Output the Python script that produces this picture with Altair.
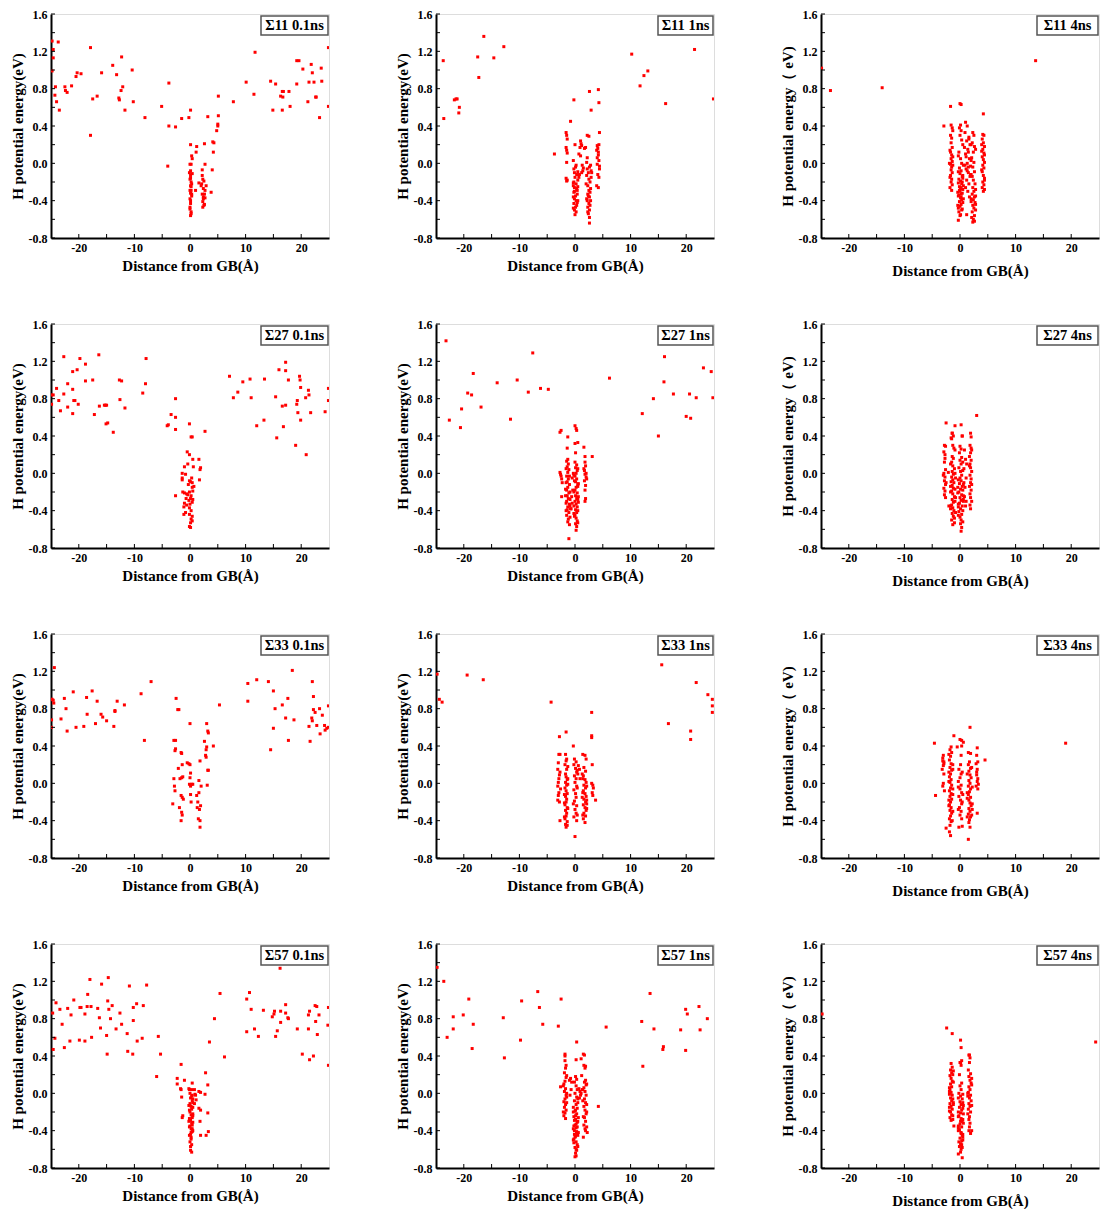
import altair as alt
import pandas as pd

FONT = "Liberation Serif"
W = 278
H = 224

XMAJOR = [-20, -10, 0, 10, 20]
XMINOR = [-15, -5, 5, 15]
YMAJOR = [-0.8, -0.4, 0.0, 0.4, 0.8, 1.2, 1.6]
YMINOR = [-0.6, -0.2, 0.2, 0.6, 1.0, 1.4]

LABELS = ["Σ11 0.1ns", "Σ11 1ns", "Σ11 4ns",
          "Σ27 0.1ns", "Σ27 1ns", "Σ27 4ns",
          "Σ33 0.1ns", "Σ33 1ns", "Σ33 4ns",
          "Σ57 0.1ns", "Σ57 1ns", "Σ57 4ns"]
YTITLE_A = "H potential energy(eV)"
YTITLE_B = "H potential energy（ eV)"
XTITLE = "Distance from GB(Å)"

S11_01 = [
(-24.8,1.31),(-24.6,1.22),(-24.6,1.13),(-24.8,0.99),(-23.7,1.30),(-24.2,0.82),(-24.3,0.73),(-24.0,0.66),(-23.5,0.57),
(-22.5,0.82),(-22.4,0.78),(-22.1,0.76),(-21.3,0.83),(-20.5,0.93),(-20.3,0.97),(-19.6,0.96),(-17.9,1.24),(-17.5,0.69),(-17.9,0.30),
(-16.7,0.72),(-15.9,0.97),(-13.9,1.05),(-13.2,0.95),(-12.8,0.70),(-12.7,0.68),(-12.4,0.78),(-12.3,1.14),(-12.1,0.82),(-11.7,0.57),
(-10.4,1.00),(-10.2,0.66),(-8.1,0.49),(-5.1,0.61),(-3.8,0.86),(-3.8,0.40),(-4.0,-0.03),(-2.6,0.39),(-1.5,0.48),(-0.2,0.49),(0.1,0.57),
(0.1,0.20),(0.3,0.08),(0.4,0.05),(0.2,-0.01),(0.0,-0.01),(0.1,-0.08),(0.1,-0.13),(0.0,-0.17),(0.1,-0.16),(0.2,-0.20),(0.1,-0.24),
(0.0,-0.29),(0.1,-0.32),(0.3,-0.35),(0.0,-0.38),(0.1,-0.43),(0.0,-0.47),(0.2,-0.52),(0.1,-0.56),(0.2,-0.54),(-0.1,-0.10),(0.4,-0.11),
(0.3,-0.22),(0.2,-0.29),(0.3,-0.33),(0.0,-0.49),(0.2,-0.25),(0.1,-0.40),
(1.2,0.18),(1.1,0.12),(1.0,-0.29),(1.6,-0.21),(2.0,-0.24),(2.1,-0.22),(2.2,-0.13),(2.2,-0.07),(2.3,-0.17),(2.4,-0.27),(2.2,-0.33),
(2.4,-0.38),(2.3,-0.41),(2.6,-0.44),(2.3,-0.47),(2.6,0.21),(2.7,-0.01),(2.6,-0.33),(2.7,-0.37),(2.7,-0.29),(2.9,-0.24),(2.5,-0.45),
(2.4,-0.36),(2.5,-0.19),
(3.2,0.50),(3.8,-0.31),(4.0,-0.07),(4.3,0.22),(4.1,0.23),(4.2,0.12),(4.8,0.35),(5.0,0.40),(5.0,0.42),(5.1,0.51),(5.1,0.72),
(7.8,0.66),(10.1,0.87),(11.5,0.74),(11.7,1.19),(14.5,0.88),(14.9,0.57),(15.4,0.85),(16.3,0.72),(16.6,0.77),(16.7,0.71),(16.6,0.57),
(16.8,0.77),(17.8,0.77),(18.0,0.61),(19.2,0.85),(19.2,1.10),(19.6,1.10),(20.3,1.01),(21.4,0.87),(21.2,0.66),(21.8,1.06),(22.0,0.97),
(22.3,0.87),(22.6,0.71),(22.7,0.71),(23.3,0.49),(23.6,1.02),(23.7,0.88),(24.9,1.24),(24.9,0.61)]

S11_1 = [
(-23.7,1.10),(-23.6,0.48),(-21.7,0.68),(-21.4,0.69),(-21.2,0.69),(-20.8,0.60),(-20.9,0.54),(-17.5,1.14),(-17.3,0.92),(-16.4,1.36),
(-14.6,1.13),(-12.8,1.25),(-3.7,0.10),(-0.8,0.45),(-0.2,0.68),(2.6,0.77),(2.9,0.57),(4.2,0.79),(4.3,0.65),(4.4,0.33),
(10.2,1.17),(11.7,0.83),(12.4,0.94),(13.1,0.99),(16.3,0.64),(21.5,1.22),(24.9,0.69),
(-1.6,0.33),(-1.5,0.30),(-1.4,0.26),(-1.6,0.17),(-1.5,0.14),(-1.4,0.11),(-1.5,0.01),(-1.6,-0.16),(-1.5,-0.19),(-1.4,-0.18),
(0.0,0.20),(-0.3,0.03),(0.1,-0.04),(-0.1,-0.10),(0.3,-0.12),(0.0,-0.15),(-0.2,-0.20),(0.2,-0.22),(-0.1,-0.26),(0.3,-0.27),
(-0.2,-0.31),(0.1,-0.35),(-0.1,-0.38),(0.2,-0.40),(-0.2,-0.43),(0.1,-0.47),(-0.1,-0.50),(0.0,-0.55),(0.4,-0.29),(-0.3,-0.24),
(0.5,-0.18),(0.5,-0.40),(-0.3,-0.48),(0.7,-0.15),(0.4,-0.33),(-0.2,-0.06),(0.3,-0.45),(-0.3,-0.36),(0.5,-0.25),(0.2,-0.52),
(0.5,-0.09),(0.2,-0.02),(-0.3,-0.21),(-0.1,-0.30),(0.4,-0.42),
(1.0,0.24),(1.2,0.19),(0.7,0.10),(1.0,0.08),(1.3,-0.02),(1.2,-0.10),(1.4,-0.08),(0.9,0.17),(1.1,0.21),(1.7,0.16),(1.5,-0.05),(0.8,-0.12),
(2.2,0.30),(2.5,0.29),(1.9,0.17),(2.1,0.01),(2.2,-0.06),(2.4,-0.10),(2.5,-0.17),(2.7,-0.20),(2.3,-0.24),(2.5,-0.29),(2.3,-0.33),
(2.6,-0.36),(2.2,-0.40),(2.5,-0.43),(2.3,-0.47),(2.6,-0.50),(2.4,-0.54),(2.6,-0.58),(2.6,-0.64),(2.8,-0.02),(2.9,-0.08),(3.0,-0.10),
(2.8,-0.27),(2.8,-0.40),(2.1,-0.13),(2.0,-0.22),(2.7,-0.31),(2.1,-0.38),(2.7,-0.45),(2.3,-0.52),(2.6,-0.04),(2.2,0.06),(2.9,-0.15),(2.4,-0.35),
(4.0,0.19),(4.3,0.20),(3.9,0.14),(4.2,0.12),(4.0,0.06),(4.3,0.03),(4.0,-0.01),(4.4,-0.06),(4.1,-0.12),(4.3,-0.15),(3.9,-0.24),
(4.2,-0.26),(4.1,0.16),(4.2,0.09),(4.4,-0.03)]

S11_4 = [
(-24.9,1.02),(-23.3,0.78),(-14.0,0.81),(13.6,1.10),(-2.9,0.40),(-1.7,0.61),(-0.3,-0.61),(1.2,-0.55),(2.6,-0.62),(0.0,0.64),(0.2,0.63),(4.2,0.53),
(-1.6,0.41),(-1.4,0.38),(-1.7,0.30),(-1.5,0.27),(-1.6,0.22),(-1.4,0.17),(-1.7,0.12),(-1.5,0.09),(-1.6,0.05),(-1.4,0.02),(-1.7,-0.01),
(-1.5,-0.04),(-1.6,-0.07),(-1.4,-0.10),(-1.7,-0.13),(-1.5,-0.17),(-1.6,-0.20),(-1.4,-0.23),(-1.8,-0.26),(-1.5,-0.29),(-1.3,0.35),
(-1.8,0.14),(-1.3,-0.02),(-1.8,-0.15),(-1.9,0.00),(-1.3,0.07),
(0.1,0.41),(-0.1,0.38),(0.2,0.35),(0.0,0.30),(0.3,0.25),(-0.2,0.12),(0.1,0.05),(0.3,0.00),(-0.1,-0.05),(0.2,-0.08),(0.0,-0.11),
(0.4,-0.14),(-0.2,-0.17),(0.1,-0.19),(0.3,-0.22),(-0.1,-0.25),(0.2,-0.27),(0.0,-0.30),(0.4,-0.32),(-0.2,-0.34),(0.1,-0.37),
(0.3,-0.39),(-0.1,-0.41),(0.2,-0.44),(0.0,-0.46),(0.4,-0.49),(-0.2,-0.52),(0.1,-0.55),(0.5,-0.13),(-0.3,-0.21),(0.5,-0.28),
(-0.3,-0.35),(0.5,-0.42),(-0.3,-0.48),(0.6,-0.24),(-0.4,-0.31),(0.6,-0.38),(-0.4,-0.45),(0.5,-0.16),(-0.3,-0.09),(0.6,-0.02),
(0.4,-0.20),(-0.1,-0.29),(0.2,-0.36),(0.3,-0.50),(0.0,-0.56),(0.5,0.20),(-0.3,0.08),(0.1,-0.26),(0.2,-0.33),
(1.0,0.44),(1.3,0.40),(0.9,0.33),(1.6,0.28),(1.2,0.24),(1.8,0.20),(1.4,0.15),(1.0,0.10),(1.7,0.05),(1.3,0.00),(1.9,-0.03),
(1.1,-0.06),(1.5,-0.10),(1.8,-0.14),(1.2,-0.18),(1.6,-0.22),(1.0,-0.26),(1.4,-0.30),(1.7,-0.36),(0.8,0.17),(1.5,0.12),(2.0,0.03),
(0.9,-0.02),(1.3,-0.08),(1.9,-0.12),(1.6,0.26),(1.1,0.07),(1.5,-0.04),
(2.3,0.33),(2.5,0.30),(2.2,0.22),(2.6,0.18),(2.4,0.12),(2.1,0.06),(2.5,0.01),(2.3,-0.04),(2.6,-0.09),(2.2,-0.14),(2.4,-0.18),
(2.7,-0.22),(2.3,-0.26),(2.5,-0.30),(2.2,-0.33),(2.6,-0.36),(2.4,-0.39),(2.7,-0.42),(2.3,-0.45),(2.5,-0.48),(2.2,-0.52),(2.6,-0.56),
(2.4,-0.60),(2.3,-0.63),(2.8,-0.35),(2.0,-0.41),(2.8,-0.28),(2.0,0.20),(2.8,0.15),(2.0,-0.12),(2.8,-0.44),(2.0,-0.38),(2.8,-0.50),(2.1,-0.58),
(4.1,0.31),(4.3,0.30),(4.0,0.26),(4.2,0.22),(4.4,0.18),(4.1,0.15),(4.3,0.11),(4.0,0.07),(4.2,0.04),(4.4,0.01),(4.1,-0.02),(4.3,-0.05),
(4.0,-0.09),(4.2,-0.13),(4.4,-0.16),(4.1,-0.20),(4.3,-0.23),(4.0,-0.26),(4.2,-0.30),(3.9,0.20),(4.4,0.09),(3.9,-0.07),(4.4,-0.18),
(3.9,0.13),(4.4,-0.28)]

S27_01 = [
(-24.9,0.84),(-24.9,0.74),(-24.6,0.84),(-24.0,0.91),(-23.6,0.78),(-23.3,0.67),(-22.7,1.25),(-22.7,0.85),(-22.0,0.71),(-22.0,0.96),
(-21.1,1.09),(-21.1,0.90),(-21.1,0.64),(-20.9,0.78),(-20.7,0.78),(-20.3,1.11),(-20.1,0.74),(-19.8,1.23),(-18.8,1.17),(-18.8,0.99),
(-17.5,1.00),(-17.2,0.63),(-16.4,1.27),(-16.3,0.72),(-15.4,0.73),(-15.2,0.73),(-15.0,0.73),(-15.1,0.53),(-14.8,0.54),(-13.8,0.44),
(-12.7,1.00),(-12.3,0.99),(-12.6,0.79),(-11.7,0.70),(-8.5,0.86),(-8.0,0.96),(-7.9,1.23),(-4.1,0.51),(-3.9,0.52),(-3.4,0.63),
(-2.6,0.60),(-2.6,0.47),(-2.6,0.80),(-2.6,-0.24),(-0.1,0.53),(0.2,0.39),(0.4,0.39),(2.7,0.45),
(-0.5,0.23),(-0.1,0.20),(0.5,0.15),(1.6,0.15),(-1.0,0.07),(-0.4,0.10),(0.6,0.07),(-1.4,0.00),(-0.8,-0.01),(1.8,0.04),(1.9,0.06),
(1.7,-0.07),(-1.4,-0.05),(-1.4,-0.07),(-0.1,-0.08),(0.1,-0.09),(0.4,-0.10),(0.7,-0.14),(-1.3,-0.20),(-1.0,-0.21),(-0.6,-0.22),
(-0.4,-0.23),(-0.1,-0.20),(0.2,-0.24),(0.5,-0.19),(0.4,-0.15),(0.1,-0.27),(-0.2,-0.29),(0.4,-0.31),(-1.0,-0.32),(-0.6,-0.34),
(-1.1,-0.36),(-0.1,-0.37),(0.2,-0.40),(-0.8,-0.42),(-1.1,-0.44),(-0.1,-0.44),(0.4,-0.46),(0.2,-0.49),(0.1,-0.53),(-0.1,-0.57),
(0.1,-0.58),(0.4,-0.51),(0.5,-0.28),(-0.3,-0.12),(0.3,-0.05),(-0.7,-0.27),(0.0,-0.33),
(7.1,1.04),(7.8,0.81),(8.6,0.87),(9.5,0.98),(10.8,1.01),(11.0,0.81),(12.0,0.51),(13.3,0.57),(13.4,1.01),(15.4,0.82),(15.6,0.38),
(16.0,1.11),(16.6,0.72),(16.8,0.50),(17.2,0.73),(17.2,1.10),(17.2,1.19),(17.7,1.00),(19.0,0.30),(19.2,0.74),(19.3,0.78),(19.4,0.65),
(19.7,1.04),(19.8,1.00),(19.9,0.92),(19.9,0.57),(20.8,0.81),(20.9,0.20),(21.3,0.89),(21.4,0.84),(21.7,0.65),(24.3,0.66),(24.9,0.78),(24.9,0.91)]

S27_1 = [
(-23.2,1.42),(-22.6,0.57),(-20.6,0.49),(-20.4,0.69),(-19.3,0.86),(-18.6,0.84),(-18.3,1.07),(-16.9,0.71),(-14.0,0.97),(-11.6,0.58),
(-10.4,1.00),(-8.4,0.87),(-7.6,1.29),(-6.2,0.91),(-4.8,0.90),(-2.7,0.44),(-2.5,0.46),(-1.3,0.39),(0.0,0.51),(0.2,0.48),(0.3,0.46),
(0.0,0.32),(0.5,0.33),(0.1,0.22),(1.6,0.28),(1.8,0.18),(3.1,0.18),(-1.4,0.27),(-1.1,-0.70),(0.2,-0.61),(6.2,1.02),(12.1,0.64),
(14.1,0.80),(15.0,0.40),(16.1,1.25),(16.0,0.98),(17.7,0.85),(20.0,0.61),(20.6,0.85),(20.8,0.59),(21.8,0.81),(23.1,1.13),(24.5,1.09),(24.8,0.81),
(-2.7,0.01),(-2.6,-0.01),(-2.5,-0.03),(-2.4,-0.06),(-2.3,-0.10),(-2.4,-0.25),
(-1.3,0.15),(-1.5,0.13),(-1.2,0.10),(-1.4,0.07),(-1.1,0.04),(-1.3,0.01),(-1.5,-0.03),(-1.2,-0.06),(-1.4,-0.09),(-1.0,-0.12),
(-1.3,-0.15),(-1.5,-0.18),(-1.1,-0.21),(-1.4,-0.24),(-1.2,-0.27),(-1.5,-0.30),(-1.0,-0.33),(-1.3,-0.36),(-1.4,-0.39),(-1.1,-0.42),
(-1.5,-0.45),(-1.2,-0.49),(-1.3,-0.52),(-1.0,-0.55),(-0.9,-0.20),(-0.9,-0.35),(-1.6,-0.10),(-1.6,0.05),(-0.9,-0.28),(-1.6,-0.40),
(-0.9,-0.47),(-1.7,-0.17),(-1.6,-0.32),(-1.0,-0.03),(-1.7,-0.24),(-0.8,-0.38),
(-0.6,-0.25),(-0.4,-0.18),(-0.5,-0.05),(-0.3,0.00),(-0.7,-0.38),(-0.5,-0.32),
(0.0,0.12),(0.3,0.09),(0.1,0.06),(0.4,0.03),(0.2,0.00),(0.0,-0.03),(0.3,-0.06),(0.1,-0.09),(0.5,-0.12),(0.2,-0.15),(0.0,-0.18),
(0.4,-0.21),(0.1,-0.24),(0.3,-0.27),(0.0,-0.30),(0.2,-0.33),(0.4,-0.36),(0.1,-0.39),(0.3,-0.42),(0.0,-0.45),(0.2,-0.48),(0.4,-0.51),
(0.1,-0.54),(0.3,-0.57),(0.5,-0.14),(0.5,-0.28),(0.5,-0.40),(-0.2,-0.20),(-0.2,-0.35),(-0.1,-0.08),(0.5,0.05),(-0.1,-0.46),
(0.6,-0.25),(0.6,-0.11),(0.6,-0.31),(-0.2,-0.43),(0.5,-0.53),(-0.2,-0.02),
(1.8,0.12),(1.9,0.08),(1.7,0.03),(1.8,-0.01),(2.0,-0.04),(1.7,-0.08),(1.9,-0.13),(1.8,-0.18),(1.9,-0.27),(1.8,-0.30),(2.0,0.00),
(1.6,0.05),(2.1,-0.06)]

S27_4 = [
(-2.5,0.54),(-0.9,0.51),(0.2,0.52),(3.0,0.62),(0.4,0.40),(-1.4,0.43),(-1.6,0.38),(-2.0,-0.35),
(-2.8,0.30),(-2.6,0.29),(-2.9,0.23),(-2.7,0.20),(-2.8,0.12),(-2.6,0.04),(-2.9,0.00),(-2.7,-0.04),(-2.8,-0.08),(-2.6,-0.12),
(-2.9,-0.16),(-2.7,-0.19),(-2.8,-0.23),(-2.6,-0.26),(-2.7,0.16),(-3.0,-0.02),(-2.5,-0.10),(-2.1,0.01),
(-1.4,0.43),(-1.2,0.40),(-1.5,0.37),(-1.3,0.30),(-1.1,0.27),(-1.4,0.18),(-1.2,0.16),(-1.5,0.12),(-1.3,0.08),(-1.0,0.05),
(-1.4,0.02),(-1.2,-0.01),(-1.5,-0.04),(-1.3,-0.07),(-1.1,-0.10),(-1.4,-0.13),(-1.2,-0.16),(-1.5,-0.19),(-1.3,-0.22),(-1.0,-0.25),
(-1.4,-0.28),(-1.2,-0.31),(-1.5,-0.34),(-1.3,-0.37),(-1.1,-0.40),(-1.4,-0.43),(-1.2,-0.46),(-1.5,-0.50),(-1.3,-0.55),(-1.0,-0.53),
(-0.9,0.25),(-1.7,0.10),(-0.8,-0.05),(-1.7,-0.20),(-0.9,-0.30),(-0.8,-0.42),(-1.7,-0.14),(-0.8,-0.26),(-1.7,-0.35),(-0.9,0.00),
(-1.0,-0.48),(-1.6,-0.09),(-0.9,-0.17),(-1.7,-0.38),
(0.4,0.40),(0.0,0.29),(0.2,0.26),(-0.1,0.22),(0.3,0.17),(0.0,0.14),(0.2,0.10),(-0.2,0.06),(0.1,0.02),(0.3,-0.02),(0.0,-0.05),
(0.2,-0.08),(-0.1,-0.11),(0.4,-0.14),(0.1,-0.17),(-0.2,-0.20),(0.3,-0.23),(0.0,-0.26),(0.2,-0.29),(-0.1,-0.32),(0.4,-0.35),
(0.1,-0.38),(-0.2,-0.41),(0.3,-0.44),(0.0,-0.47),(0.2,-0.50),(0.1,-0.54),(0.3,-0.58),(0.2,-0.62),(0.6,-0.12),(0.6,-0.24),
(-0.3,-0.33),(0.5,-0.40),(-0.3,-0.07),(0.5,-0.18),(0.6,-0.28),(-0.3,-0.45),(0.5,0.03),(-0.3,-0.36),(0.5,-0.52),(-0.4,-0.15),
(0.6,-0.30),(0.5,0.12),(-0.4,-0.21),
(0.8,0.25),(1.0,0.15),(0.7,0.05),(1.1,-0.05),(0.9,-0.15),(0.8,-0.25),(1.0,-0.35),(1.2,0.10),(0.7,-0.10),(1.1,-0.30),
(1.9,0.43),(2.0,0.39),(1.8,0.30),(2.0,0.27),(1.9,0.22),(1.7,0.18),(2.0,0.14),(1.8,0.10),(1.9,0.06),(2.1,0.02),(1.8,-0.02),
(2.0,-0.06),(1.9,-0.10),(1.7,-0.14),(2.0,-0.18),(1.8,-0.22),(1.9,-0.26),(2.1,-0.30),(1.8,-0.34),(1.9,-0.38),(2.1,0.25),(1.7,0.08),(2.1,-0.12)]

S33_01 = [
(-24.9,0.90),(-24.8,0.90),(-24.6,0.89),(-24.5,0.86),(-24.4,1.24),(-24.9,0.68),(-24.9,0.60),(-23.2,0.69),(-22.6,0.91),(-22.3,0.80),
(-22.1,0.56),(-21.0,0.98),(-20.5,0.60),(-19.1,0.61),(-18.6,0.92),(-18.5,0.74),(-17.6,0.99),(-17.0,0.64),(-16.7,0.88),(-16.0,0.74),
(-15.7,0.71),(-15.0,0.67),(-13.7,0.61),(-13.5,0.77),(-13.5,0.78),(-13.1,0.88),(-11.8,0.84),(-8.8,0.96),(-8.2,0.46),(-7.0,1.09),
(-2.9,0.46),(-2.6,0.46),(-2.7,0.35),(-2.6,0.37),(-2.5,0.91),(-2.2,0.79),(-2.0,0.79),(-3.1,-0.22),(-2.9,0.05),(-2.8,-0.03),
(-2.7,-0.08),(-2.1,0.16),(-1.6,0.33),(-1.5,0.32),(-1.4,0.20),(-1.8,0.05),(-1.5,0.06),(-1.3,0.07),(-1.6,-0.13),(-1.4,-0.15),
(-1.2,-0.17),(-1.9,-0.26),(-1.5,-0.31),(-1.4,-0.34),(-1.6,-0.40),(-0.5,0.22),(-0.2,0.21),(0.0,0.20),(0.0,0.64),(0.1,0.11),
(0.0,0.06),(-0.1,-0.01),(0.1,-0.03),(0.3,-0.01),(0.5,-0.01),(0.1,-0.12),(0.2,-0.20),(1.2,-0.13),(1.3,-0.26),(1.4,-0.20),
(1.6,0.03),(1.6,-0.10),(1.8,0.24),(1.7,-0.28),(1.5,-0.38),(1.8,-0.40),(1.8,-0.47),(1.9,-0.24),(2.0,-0.03),(2.6,0.45),(2.8,0.30),
(2.9,0.28),(2.9,0.36),(3.0,0.39),(3.0,0.64),(3.2,0.56),(3.3,0.54),(3.2,0.14),(3.3,0.14),(3.1,-0.02),(4.2,0.40),(5.3,0.84),
(10.4,1.07),(10.4,0.88),(12.0,1.11),(14.1,1.09),(14.5,0.36),(15.0,0.59),(15.0,0.99),(15.3,0.80),(16.6,0.84),(17.2,0.70),(17.6,0.91),
(17.7,0.46),(18.4,1.21),(18.7,0.68),(21.4,0.61),(21.6,0.45),(21.9,0.70),(22.0,0.67),(22.0,1.09),(22.2,0.93),(22.2,0.79),(22.5,0.76),
(22.8,0.62),(23.3,0.80),(23.4,0.53),(23.8,0.73),(24.2,0.62),(24.3,0.57),(24.6,0.59),(24.9,0.60),(24.9,0.83)]

S33_1 = [
(-24.8,1.17),(-24.4,0.90),(-23.9,0.87),(-19.4,1.16),(-16.5,1.11),(-4.3,0.87),(-2.8,0.50),(-1.6,0.55),(-0.3,0.40),(3.0,0.76),
(3.0,0.51),(3.0,0.49),(3.1,0.20),(3.7,-0.18),(15.6,1.27),(16.8,0.64),(20.8,0.56),(20.8,0.47),(21.8,1.08),(23.9,0.95),(24.7,0.90),
(24.7,0.83),(24.7,0.76),(0.0,-0.57),(-2.7,-0.40),
(-2.9,0.31),(-2.7,0.31),(-3.0,0.22),(-3.1,0.15),(-2.8,0.09),(-2.9,0.05),(-3.0,0.01),(-3.1,-0.03),(-2.9,-0.10),(-3.0,-0.13),
(-3.1,-0.18),(-2.8,-0.20),(-2.7,0.12),(-2.6,-0.06),
(-1.7,0.31),(-1.5,0.26),(-1.6,0.24),(-1.8,0.20),(-1.5,0.15),(-1.7,0.10),(-1.6,0.07),(-1.4,0.04),(-1.7,0.01),(-1.5,-0.02),
(-1.8,-0.05),(-1.6,-0.08),(-1.4,-0.11),(-1.7,-0.14),(-1.5,-0.17),(-1.6,-0.20),(-1.8,-0.23),(-1.4,-0.26),(-1.7,-0.29),(-1.5,-0.32),
(-1.6,-0.35),(-1.8,-0.38),(-1.4,-0.41),(-1.7,-0.44),(-1.6,-0.47),(-1.4,-0.45),(-1.3,0.18),(-1.3,-0.01),(-1.9,-0.12),(-1.3,-0.27),
(-1.9,-0.36),(-1.3,0.05),(-1.9,-0.21),
(-0.1,0.26),(0.2,0.23),(-0.2,0.20),(0.1,0.16),(0.3,0.12),(-0.1,0.08),(0.2,0.05),(0.0,0.01),(0.3,-0.03),(-0.2,-0.07),(0.1,-0.11),
(0.2,-0.15),(-0.1,-0.19),(0.3,-0.24),(0.0,-0.28),(0.2,-0.32),(-0.2,-0.36),(0.3,-0.40),(0.4,0.14),(0.4,-0.05),(-0.3,-0.22),(0.4,-0.34),
(0.6,0.19),(0.8,0.15),(0.5,0.10),(0.9,0.05),
(1.4,0.31),(1.8,0.30),(2.0,0.26),(1.6,0.17),(1.9,0.13),(1.5,0.08),(1.8,0.04),(2.0,0.01),(1.6,-0.02),(1.9,-0.05),(1.5,-0.08),
(1.8,-0.11),(2.0,-0.14),(1.6,-0.17),(1.9,-0.20),(1.5,-0.23),(1.8,-0.26),(2.0,-0.29),(1.6,-0.32),(1.9,-0.35),(1.5,-0.38),(1.8,-0.42),
(1.4,0.05),(1.4,-0.10),(2.1,-0.18),(2.1,-0.27),(1.4,-0.34),(2.1,-0.03),(1.3,-0.15),(2.1,-0.22),(1.3,0.10),
(3.0,0.00),(3.2,-0.02),(3.3,-0.05),(3.1,-0.10),(3.2,-0.13)]

S33_4 = [
(-4.6,0.43),(-4.4,-0.13),(19.0,0.43),(1.8,0.60),(-1.1,0.51),(0.0,0.47),(0.3,0.46),(0.6,0.44),(0.3,0.40),(-0.5,0.39),(4.5,0.25),
(1.5,-0.60),(-1.7,-0.56),(-1.9,-0.52),(-2.5,-0.48),(-0.2,-0.47),(0.4,-0.46),
(-3.0,0.30),(-3.1,0.27),(-2.9,0.23),(-3.0,0.19),(-3.2,0.15),(-2.9,0.10),(-3.0,0.00),(-3.1,-0.03),(-2.8,-0.08),(-3.1,0.24),(-2.9,0.21),
(-1.6,0.39),(-1.8,0.36),(-1.5,0.33),(-1.7,0.29),(-1.9,0.25),(-1.6,0.21),(-1.8,0.17),(-1.5,0.14),(-1.7,0.10),(-1.9,0.07),
(-1.6,0.04),(-1.8,0.01),(-1.5,-0.02),(-1.7,-0.05),(-1.9,-0.08),(-1.6,-0.11),(-1.8,-0.14),(-1.5,-0.17),(-1.7,-0.20),(-1.9,-0.23),
(-1.6,-0.26),(-1.8,-0.29),(-1.5,-0.32),(-1.7,-0.35),(-1.9,-0.38),(-1.6,-0.41),(-1.8,-0.45),(-1.3,0.20),(-2.0,0.12),(-1.3,-0.06),
(-2.0,-0.18),(-1.3,-0.30),(-2.0,0.02),(-1.3,-0.12),(-2.0,-0.24),(-1.4,-0.40),(-2.0,0.31),(-1.3,0.15),
(0.1,0.20),(-0.2,0.15),(0.2,0.10),(0.0,0.06),(-0.3,0.02),(0.2,-0.02),(0.0,-0.06),(0.3,-0.10),(-0.2,-0.14),(0.1,-0.18),
(0.3,-0.22),(-0.1,-0.26),(0.2,-0.30),(0.0,-0.34),(0.3,-0.38),(0.4,0.12),(-0.3,-0.04),(0.4,-0.20),(-0.3,-0.28),(0.2,0.30),(0.5,-0.12),
(1.5,0.33),(1.9,0.32),(1.7,0.23),(1.5,0.20),(1.9,0.16),(1.6,0.13),(1.8,0.09),(2.0,0.06),(1.6,0.03),(1.8,0.00),(1.5,-0.03),
(1.9,-0.06),(1.7,-0.09),(1.5,-0.12),(1.9,-0.15),(1.6,-0.18),(1.8,-0.21),(2.0,-0.24),(1.6,-0.27),(1.8,-0.30),(1.5,-0.33),
(1.9,-0.36),(1.7,-0.39),(1.6,-0.42),(1.8,-0.47),(1.3,0.10),(2.2,-0.04),(1.3,-0.16),(2.2,-0.28),(1.3,-0.36),(2.1,0.17),
(1.3,-0.10),(2.2,-0.22),(2.1,-0.34),
(3.1,0.38),(3.0,0.30),(3.2,0.23),(2.9,0.21),(3.1,0.15),(3.0,0.09),(3.2,0.05),(3.1,0.02),(2.9,-0.03),(3.2,-0.06),(3.1,-0.32),
(3.0,0.12),(3.3,-0.01)]

S57_01 = [
(-24.7,0.86),(-24.6,0.47),(-24.3,0.59),(-24.1,0.97),(-23.4,0.90),(-23.0,0.74),(-22.6,0.49),(-22.0,0.91),(-21.6,0.56),(-21.4,0.84),
(-20.9,1.00),(-19.9,0.57),(-19.8,0.92),(-19.6,0.92),(-18.9,0.56),(-18.9,0.85),(-18.5,0.93),(-18.4,1.06),(-18.0,1.22),(-17.8,0.93),
(-17.7,0.60),(-16.6,0.91),(-16.3,0.81),(-16.1,0.70),(-15.9,1.17),(-15.0,0.62),(-14.9,0.42),(-14.8,0.99),(-14.7,1.24),(-14.6,0.90),
(-14.3,0.80),(-14.0,0.94),(-13.3,0.69),(-12.6,0.86),(-12.3,0.74),(-11.3,0.64),(-11.2,0.45),(-10.9,1.15),(-10.3,0.42),(-10.2,0.78),
(-10.2,0.92),(-9.6,0.96),(-9.5,0.56),(-8.6,0.59),(-8.4,0.94),(-7.8,1.16),(-5.7,0.61),(-5.3,0.42),(-6.0,0.18),
(-1.6,0.31),(-2.3,0.16),(-2.3,0.10),(-1.0,0.14),(-1.7,0.05),(-1.6,0.04),(-1.5,-0.04),(-1.4,-0.26),(-1.3,-0.24),(-0.2,0.05),
(-0.1,0.04),(0.3,0.04),(0.4,0.11),(0.8,0.04),(1.6,0.02),(1.9,0.01),(1.6,-0.16),(1.9,-0.18),(1.8,-0.30),(1.9,-0.45),(0.9,-0.01),
(1.1,-0.07),(0.8,-0.11),(1.0,-0.02),(2.8,0.22),(2.7,-0.01),(2.9,-0.45),(3.2,0.09),(3.2,-0.21),(3.3,-0.41),(3.5,0.55),(4.4,0.80),
(5.4,1.07),(6.2,0.39),
(0.0,0.00),(0.3,-0.03),(0.1,-0.05),(0.4,-0.08),(0.0,-0.11),(0.2,-0.14),(0.3,-0.17),(0.0,-0.20),(0.2,-0.23),(0.4,-0.26),(0.1,-0.29),
(0.3,-0.32),(0.0,-0.35),(0.2,-0.38),(0.4,-0.41),(0.1,-0.44),(0.2,-0.47),(0.0,-0.52),(0.3,-0.55),(0.1,-0.61),(0.3,-0.63),(0.5,-0.10),
(0.5,-0.22),(0.5,-0.31),(0.5,-0.40),(-0.1,-0.18),(-0.1,-0.27),(-0.1,-0.36),(-0.1,-0.45),(0.5,-0.06),(-0.2,-0.13),(0.4,-0.34),
(0.2,-0.42),(0.2,-0.49),(0.5,-0.24),(0.5,-0.15),(-0.2,-0.30),(0.4,-0.38),(0.4,-0.02),(0.1,-0.57),
(10.2,1.01),(10.2,0.66),(10.7,1.08),(11.0,0.90),(11.6,0.69),(12.3,0.61),(13.2,0.89),(14.8,0.82),(15.1,0.85),(15.2,0.88),(15.4,0.61),
(15.7,0.67),(16.2,1.34),(16.3,0.88),(16.3,0.76),(17.2,0.86),(17.2,0.95),(17.6,0.81),(17.7,0.80),(19.3,0.69),(20.2,0.42),(21.3,0.69),
(21.3,0.84),(21.5,0.88),(21.5,0.36),(22.2,0.40),(22.5,0.94),(22.6,0.77),(22.8,0.93),(22.9,0.63),(23.2,0.84),(24.8,0.73),(24.9,0.92),(24.9,0.30)]

S57_1 = [
(-24.8,1.35),(-23.6,1.20),(-23.0,0.60),(-21.9,0.82),(-21.9,0.69),(-20.1,0.84),(-19.1,1.01),(-18.5,0.48),(-18.3,0.74),(-12.9,0.81),
(-12.7,0.38),(-9.8,0.57),(-9.6,0.99),(-6.7,1.09),(-6.4,0.92),(-5.8,0.74),(-3.0,0.72),(-2.5,1.01),(-2.6,0.07),(0.3,0.55),(0.2,0.36),
(1.1,0.37),(1.5,0.42),(1.7,0.41),(1.9,0.29),(1.2,0.19),(4.2,-0.14),(5.6,0.71),(12.0,0.77),(12.2,0.29),(13.5,1.07),(14.2,0.69),
(15.8,0.47),(15.9,0.50),(19.0,0.68),(19.9,0.46),(19.9,0.90),(20.2,0.85),(22.3,0.93),(22.5,0.68),(23.8,0.80),
(-1.8,0.42),(-1.8,0.40),(-1.6,0.30),(-1.7,0.27),(-1.9,0.22),(-1.6,0.17),(-1.8,0.13),(-2.0,0.10),(-1.7,0.05),(-1.9,0.02),
(-1.6,-0.02),(-1.8,-0.06),(-2.0,-0.09),(-1.7,-0.12),(-1.9,-0.15),(-1.6,-0.18),(-1.8,-0.21),(-2.0,-0.24),(-1.7,-0.27),(-1.8,0.35),
(-1.5,0.19),(-1.5,0.00),(-1.5,-0.10),(-2.1,-0.20),(-2.1,0.08),(-1.5,-0.04),
(-1.0,0.14),(-0.8,0.16),(-0.6,0.12),(-0.9,-0.02),(-0.7,0.04),
(0.1,0.18),(0.3,0.15),(-0.1,0.12),(0.2,0.08),(0.4,0.04),(0.0,0.00),(0.3,-0.04),(-0.1,-0.08),(0.2,-0.12),(0.4,-0.16),(0.0,-0.19),
(0.3,-0.22),(-0.2,-0.25),(0.1,-0.28),(0.4,-0.31),(0.0,-0.34),(0.2,-0.37),(-0.1,-0.40),(0.3,-0.43),(0.1,-0.46),(-0.2,-0.49),
(0.2,-0.52),(0.4,-0.55),(0.0,-0.58),(0.3,-0.61),(0.1,-0.64),(0.2,-0.67),(0.0,-0.68),(0.5,-0.10),(-0.3,-0.20),(0.5,-0.30),
(-0.3,-0.38),(0.5,-0.45),(-0.2,-0.53),(-0.3,-0.15),(0.6,-0.26),(-0.2,-0.35),(0.6,-0.42),(-0.3,-0.50),(0.5,-0.57),(0.5,-0.06),
(0.1,-0.24),(0.2,-0.33),(0.0,-0.47),(0.3,-0.41),(-0.1,-0.29),(0.1,-0.18),(0.4,-0.36),(-0.1,-0.44),(0.2,-0.60),
(0.9,0.02),(1.0,-0.02),(0.7,0.05),(1.1,0.00),(0.8,-0.05),(1.3,0.04),
(1.6,0.30),(1.8,0.27),(1.9,0.14),(1.7,0.12),(2.0,0.09),(1.6,0.06),(1.8,0.02),(2.0,-0.02),(1.7,-0.06),(1.9,-0.10),(1.6,-0.14),
(1.8,-0.18),(2.0,-0.22),(1.7,-0.26),(1.9,-0.30),(1.6,-0.34),(1.8,-0.38),(2.2,-0.42),(1.5,-0.47),(1.4,0.04),(2.1,-0.12),(1.5,-0.25),
(2.1,-0.36),(2.1,0.10),(1.4,-0.08),(2.1,-0.20),(1.9,-0.40)]

S57_4 = [
(-24.8,0.85),(24.4,0.55),(-2.4,0.70),(-1.4,0.64),(0.1,0.57),(0.2,0.49),(0.1,0.33),(1.7,0.41),(-1.1,-0.35),(0.4,-0.69),(-0.3,-0.65),
(-1.6,0.32),(-1.4,0.28),(-1.7,0.25),(-1.5,0.22),(-1.8,0.19),(-1.6,0.16),(-1.4,0.13),(-1.7,0.10),(-1.5,0.07),(-1.8,0.04),
(-1.6,0.01),(-1.4,-0.02),(-1.7,-0.05),(-1.5,-0.08),(-1.8,-0.11),(-1.6,-0.14),(-1.4,-0.17),(-1.7,-0.20),(-1.5,-0.23),(-1.8,-0.26),
(-1.6,-0.29),(-1.3,0.20),(-1.9,0.06),(-1.3,-0.06),(-1.9,-0.15),(-1.3,-0.24),(-1.2,0.12),(-1.9,-0.01),(-1.2,-0.10),(-1.9,-0.19),
(-1.3,-0.28),(-1.2,0.24),(-1.9,0.02),(-1.2,-0.12),
(0.3,0.35),(0.0,0.33),(0.2,0.30),(-0.1,0.20),(0.3,0.11),(0.0,0.08),(0.2,0.04),(-0.2,0.00),(0.1,-0.03),(0.4,-0.06),(0.0,-0.09),
(0.2,-0.12),(-0.1,-0.15),(0.3,-0.18),(0.1,-0.21),(-0.2,-0.24),(0.2,-0.27),(0.4,-0.30),(0.0,-0.33),(0.3,-0.36),(-0.1,-0.39),
(0.2,-0.42),(0.4,-0.45),(0.0,-0.48),(0.3,-0.51),(0.1,-0.54),(-0.1,-0.57),(0.2,-0.60),(0.1,-0.63),(0.5,-0.10),(-0.3,-0.20),
(0.5,-0.28),(-0.3,-0.35),(0.5,-0.44),(-0.2,-0.52),(0.4,-0.58),(-0.3,-0.05),(0.5,-0.16),(-0.3,-0.25),(0.6,-0.32),(-0.3,-0.40),
(0.5,-0.47),(0.3,-0.55),(0.6,-0.13),(0.6,-0.22),(-0.3,-0.37),(0.5,-0.50),(0.5,-0.01),(0.1,-0.30),(0.2,-0.43),
(1.6,0.41),(1.8,0.38),(1.7,0.33),(1.5,0.25),(1.9,0.21),(1.6,0.18),(1.8,0.14),(2.0,0.11),(1.6,0.07),(1.8,0.04),(1.5,0.01),
(1.9,-0.02),(1.7,-0.05),(2.0,-0.08),(1.6,-0.11),(1.8,-0.14),(1.5,-0.17),(1.9,-0.20),(1.7,-0.25),(1.6,-0.28),(1.8,-0.32),
(1.7,-0.36),(1.6,-0.40),(1.9,-0.43),(2.1,0.09),(1.4,-0.03),(2.1,-0.13),(1.4,-0.22),(2.1,0.16),(1.4,0.00),(2.1,-0.40)]

PANELS = [S11_01, S11_1, S11_4, S27_01, S27_1, S27_4, S33_01, S33_1, S33_4, S57_01, S57_1, S57_4]

YLAB = "datum.value < 0 ? '-' + format(-datum.value, '.1f') : format(datum.value, '.1f')"
XLAB = "datum.value < 0 ? '-' + format(-datum.value, 'd') : format(datum.value, 'd')"

AXSTYLE = dict(ticks=False, tickSize=0, grid=False, domainColor="black", domainWidth=2,
               labelColor="black", labelFont=FONT, labelFontWeight="bold", labelFontSize=12,
               titleColor="black", titleFont=FONT, titleFontWeight="bold", titleFontSize=15)


def panel(pts, label, col):
    ytitle = YTITLE_B if col == 2 else YTITLE_A
    boxw = 67 if "0.1" in label else (55 if col == 1 else 61)
    xaxis = alt.Axis(title=XTITLE, values=XMAJOR, labelExpr=XLAB, labelPadding=4,
                     titlePadding=(10 if col == 2 else 5), **AXSTYLE)
    yaxis = alt.Axis(title=ytitle, values=YMAJOR, labelExpr=YLAB, labelPadding=4, titlePadding=3, **AXSTYLE)
    xenc = alt.X("x:Q", scale=alt.Scale(domain=[-25, 25], nice=False, zero=False), axis=xaxis)
    yenc = alt.Y("y:Q", scale=alt.Scale(domain=[-0.8, 1.6], nice=False, zero=False), axis=yaxis)
    pdf = pd.DataFrame(pts, columns=["x", "y"])
    dots = alt.Chart(pdf).mark_square(size=9, color="#ff0000", opacity=1, clip=True).encode(x=xenc, y=yenc)
    xt = alt.Chart(pd.DataFrame({"x": XMAJOR + XMINOR})).mark_rule(color="black", strokeWidth=1).encode(
        x=xenc, y=alt.value(H), y2=alt.value(H - 4))
    yt = alt.Chart(pd.DataFrame({"y": YMAJOR + YMINOR})).mark_rule(color="black", strokeWidth=1).encode(
        y=yenc, x=alt.value(0), x2=alt.value(4))
    ldf = pd.DataFrame({"t": [label]})
    box = alt.Chart(ldf).mark_rect(fill="white", stroke="#555555", strokeWidth=1.5).encode(
        x=alt.value(W - boxw - 1), x2=alt.value(W - 1), y=alt.value(2), y2=alt.value(21))
    txt = alt.Chart(ldf).mark_text(font=FONT, fontWeight="bold", fontSize=14.5, color="black",
                                   align="center", baseline="middle").encode(
        x=alt.value(W - 1 - boxw / 2), y=alt.value(12), text="t:N")
    return alt.layer(dots, xt, yt, box, txt).properties(width=W, height=H)


cells = [panel(PANELS[i], LABELS[i], i % 3) for i in range(12)]

chart = alt.concat(*cells, columns=3, spacing={"row": 86, "column": 107}, bounds="flush").properties(
    padding={"left": 9, "top": 7, "right": 0, "bottom": 0}
).configure_view(stroke="black", strokeWidth=2).configure(background="white")

chart.save("out.html", embed_options={"renderer": "svg", "actions": False})
